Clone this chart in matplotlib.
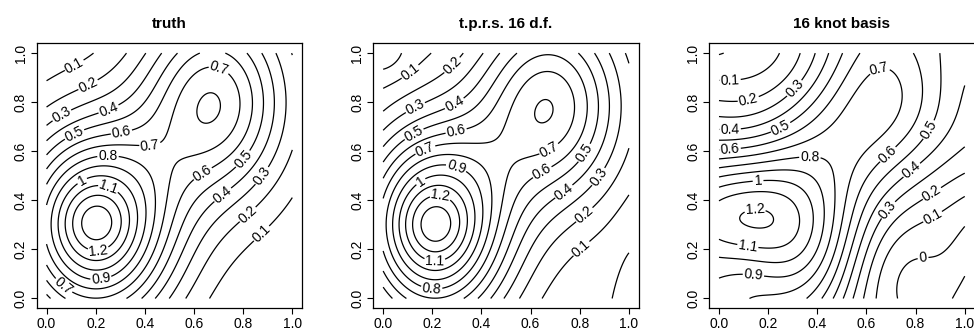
import numpy as np
import matplotlib
matplotlib.use("Agg")
import matplotlib.pyplot as plt

plt.rcParams['font.family'] = ['Liberation Sans', 'DejaVu Sans']
plt.rcParams['contour.negative_linestyle'] = 'solid'

titles = ["truth", "t.p.r.s. 16 d.f.", "16 knot basis"]
levels = [round(-0.2 + 0.1 * i, 1) for i in range(17)]
ticks = [0.0, 0.2, 0.4, 0.6, 0.8, 1.0]
tick_labels = ["0.0", "0.2", "0.4", "0.6", "0.8", "1.0"]

# ---- truth: Gaussian components ----
truth_amp = [1.22, 0.14, 0.785]
truth_cx = [0.20, 0.20, 0.68]
truth_cy = [0.30, 0.31, 0.80]
truth_sx = [0.32, 0.12, 0.30]
truth_sy = [0.40, 0.12, 0.40]
truth_labels = [(0.114, 0.948, 0.1), (0.168, 0.873, 0.2), (0.06, 0.75, 0.3),
                (0.25, 0.778, 0.4), (0.114, 0.668, 0.5), (0.304, 0.682, 0.6),
                (0.25, 0.587, 0.8), (0.426, 0.566, 0.7), (0.134, 0.498, 1.0),
                (0.256, 0.464, 1.1), (0.209, 0.211, 1.2), (0.222, 0.075, 0.9),
                (0.066, 0.048, 0.7), (0.697, 0.921, 0.7), (0.63, 0.518, 0.6),
                (0.786, 0.58, 0.5), (0.88, 0.498, 0.3), (0.711, 0.43, 0.4),
                (0.82, 0.341, 0.2), (0.874, 0.266, 0.1)]

# ---- thin plate regression spline fit ----
tprs_amp = [1.22, 0.14, 0.78, -0.10, -0.035]
tprs_cx = [0.21, 0.21, 0.675, 0.0, 1.02]
tprs_cy = [0.30, 0.30, 0.785, 1.0, 0.05]
tprs_sx = [0.30, 0.12, 0.30, 0.10, 0.08]
tprs_sy = [0.40, 0.12, 0.40, 0.10, 0.30]
tprs_labels = [(0.107, 0.928, 0.1), (0.27, 0.962, 0.2), (0.128, 0.784, 0.3),
               (0.284, 0.805, 0.4), (0.107, 0.703, 0.5), (0.297, 0.682, 0.6),
               (0.168, 0.614, 0.7), (0.297, 0.532, 0.9), (0.148, 0.484, 1.0),
               (0.23, 0.396, 1.2), (0.21, 0.157, 1.1), (0.196, 0.027, 0.8),
               (0.664, 0.628, 0.7), (0.63, 0.546, 0.6), (0.82, 0.593, 0.5),
               (0.725, 0.45, 0.4), (0.874, 0.498, 0.3), (0.813, 0.348, 0.2),
               (0.8, 0.211, 0.1)]

# ---- 16 knot basis fit: traced contour positions (x, y) with their level ----
knot_x = [0.94, 0.97, 1.0,
          0.0, 0.03, 0.73, 0.737, 0.778, 0.831, 0.873, 0.935, 1.0,
          0.0, 0.132, 0.186, 0.227, 0.254, 0.64, 0.658, 0.69, 0.765, 0.865, 0.935, 1.0,
          0.0, 0.118, 0.179, 0.247, 0.302, 0.33, 0.585, 0.61, 0.641, 0.72, 0.79, 0.865, 0.92, 1.0,
          0.0, 0.15, 0.25, 0.308, 0.35, 0.385, 0.545, 0.585, 0.62, 0.655, 0.688, 0.76, 0.85, 0.93, 1.0,
          0.0, 0.071, 0.17, 0.25, 0.33, 0.4, 0.445, 0.51, 0.555, 0.594, 0.68, 0.777, 0.85, 0.913, 0.96, 1.0,
          0.0, 0.15, 0.247, 0.32, 0.4, 0.451, 0.505, 0.465, 0.525, 0.566, 0.62, 0.7, 0.804, 0.852, 0.885, 0.905, 0.9,
          0.0, 0.071, 0.17, 0.28, 0.37, 0.45, 0.532, 0.58, 0.405, 0.49, 0.54, 0.6, 0.675, 0.743, 0.797, 0.824, 0.817, 0.79,
          0.0, 0.2, 0.3, 0.4, 0.451, 0.505, 0.546, 0.587, 0.65, 0.729, 0.743, 0.723, 0.654, 0.587, 0.532, 0.52, 0.505, 0.45, 0.35,
          0.0, 0.2, 0.37, 0.43, 0.46, 0.47, 0.465, 0.43, 0.38, 0.3, 0.2, 0.112,
          0.0, 0.15, 0.281, 0.376, 0.417, 0.424, 0.397, 0.335, 0.22, 0.139, 0.0,
          0.0, 0.159, 0.25, 0.322, 0.369, 0.376, 0.349, 0.281, 0.15, 0.0,
          0.0, 0.064, 0.213, 0.288, 0.308, 0.281, 0.179, 0.118, 0.064, 0.0,
          0.064, 0.146, 0.22, 0.213, 0.146, 0.071,
          0.142, 0.0, 0.61]
knot_y = [0.0, 0.04, 0.075,
          0.995, 1.0, 0.0, 0.06, 0.116, 0.157, 0.184, 0.235, 0.287,
          0.887, 0.914, 0.935, 0.975, 1.0, 0.0, 0.1, 0.198, 0.273, 0.341, 0.382, 0.42,
          0.805, 0.818, 0.832, 0.86, 0.907, 1.0, 0.0, 0.116, 0.211, 0.293, 0.361, 0.43, 0.464, 0.491,
          0.735, 0.75, 0.8, 0.856, 0.93, 1.0, 0.0, 0.15, 0.29, 0.32, 0.361, 0.42, 0.51, 0.57, 0.634,
          0.691, 0.693, 0.705, 0.74, 0.8, 0.9, 1.0, 0.0, 0.15, 0.3, 0.43, 0.532, 0.575, 0.627, 0.73, 0.86,
          0.648, 0.665, 0.705, 0.755, 0.83, 0.873, 1.0, 0.0, 0.15, 0.3, 0.4, 0.52, 0.614, 0.689, 0.764, 0.9, 1.0,
          0.607, 0.61, 0.63, 0.665, 0.725, 0.8, 0.9, 1.0, 0.0, 0.15, 0.3, 0.518, 0.6, 0.641, 0.696, 0.805, 0.9, 1.0,
          0.566, 0.585, 0.605, 0.655, 0.709, 0.764, 0.832, 0.92, 0.945, 0.9, 0.832, 0.737, 0.628, 0.559, 0.505, 0.4, 0.3, 0.15, 0.0,
          0.532, 0.552, 0.573, 0.55, 0.47, 0.375, 0.3, 0.16, 0.07, 0.03, 0.012, 0.0,
          0.498, 0.51, 0.532, 0.511, 0.443, 0.3, 0.17, 0.109, 0.086, 0.085, 0.082,
          0.457, 0.48, 0.483, 0.47, 0.416, 0.3, 0.204, 0.168, 0.163, 0.163,
          0.389, 0.398, 0.436, 0.402, 0.32, 0.239, 0.218, 0.218, 0.225, 0.252,
          0.375, 0.37, 0.355, 0.314, 0.273, 0.293,
          0.322, 0.32, 0.75]
knot_z = ([-0.1] * 3 + [0.0] * 9 + [0.1] * 12 + [0.2] * 14 + [0.3] * 15 +
          [0.4] * 16 + [0.5] * 17 + [0.6] * 18 + [0.7] * 19 + [0.8] * 12 +
          [0.9] * 11 + [1.0] * 10 + [1.1] * 10 + [1.2] * 6 + [1.25, 1.15, 0.75])
knot_labels = [(0.045, 0.89, 0.1), (0.118, 0.818, 0.2), (0.308, 0.856, 0.3),
               (0.045, 0.692, 0.4), (0.247, 0.705, 0.5), (0.045, 0.609, 0.6),
               (0.37, 0.573, 0.8), (0.159, 0.48, 1.0), (0.146, 0.37, 1.2),
               (0.118, 0.218, 1.1), (0.139, 0.085, 0.9), (0.654, 0.93, 0.7),
               (0.675, 0.6, 0.6), (0.852, 0.689, 0.5), (0.777, 0.532, 0.4),
               (0.688, 0.361, 0.3), (0.865, 0.43, 0.2), (0.865, 0.341, 0.1),
               (0.831, 0.157, 0.0)]


def gaussian_sum(X, Y, amp, cx, cy, sx, sy):
    Z = np.zeros_like(X)
    for a, x0, y0, wx, wy in zip(amp, cx, cy, sx, sy):
        Z += a * np.exp(-((X - x0) / wx) ** 2 - ((Y - y0) / wy) ** 2)
    return Z


def smooth_fit(px, py, pz, X, Y, n=7, width=0.3, lam=1e-3):
    c = np.linspace(-0.15, 1.15, n)
    cxx, cyy = np.meshgrid(c, c)
    cxx, cyy = cxx.ravel(), cyy.ravel()

    def design(x, y):
        g = np.exp(-((x[:, None] - cxx) ** 2 + (y[:, None] - cyy) ** 2) / width ** 2)
        return np.column_stack([np.ones_like(x), x, y, g])

    A = design(np.asarray(px, float), np.asarray(py, float))
    coef = np.linalg.solve(A.T @ A + lam * np.eye(A.shape[1]), A.T @ np.asarray(pz, float))
    return (design(X.ravel(), Y.ravel()) @ coef).reshape(X.shape)


g = np.linspace(0, 1, 201)
X, Y = np.meshgrid(g, g)
fields = [
    gaussian_sum(X, Y, truth_amp, truth_cx, truth_cy, truth_sx, truth_sy),
    gaussian_sum(X, Y, tprs_amp, tprs_cx, tprs_cy, tprs_sx, tprs_sy),
    smooth_fit(knot_x, knot_y, knot_z, X, Y),
]
label_spots = [truth_labels, tprs_labels, knot_labels]


def fmt(v):
    v = round(v, 1)
    return "%g" % (0.0 if v == 0 else v)


fig = plt.figure(figsize=(9.74, 3.31), dpi=100)
lefts = [0.0377, 0.3833, 0.7281]
for left, title, Z, spots in zip(lefts, titles, fields, label_spots):
    ax = fig.add_axes([left, 0.0686, 0.2725, 0.8006])
    for lev in levels:
        if not (Z.min() < lev < Z.max()):
            continue
        cs = ax.contour(X, Y, Z, levels=[lev], colors="black", linewidths=0.9,
                        linestyles="solid")
        pts = [(lx, ly) for lx, ly, l in spots if l == lev]
        if pts:
            ax.clabel(cs, fmt=fmt, fontsize=10, inline=True, inline_spacing=2,
                      manual=pts)
    ax.set_xlim(-0.04, 1.04)
    ax.set_ylim(-0.04, 1.04)
    ax.set_xticks(ticks)
    ax.set_xticklabels(tick_labels)
    ax.set_yticks(ticks)
    ax.set_yticklabels(tick_labels, rotation=90, va="center")
    ax.tick_params(direction="out", length=4, width=0.8, labelsize=10, pad=2.5)
    for s in ax.spines.values():
        s.set_linewidth(0.9)
    ax.set_title(title, fontsize=11, fontweight="bold", pad=11)

fig.savefig("out.png", dpi=100)
